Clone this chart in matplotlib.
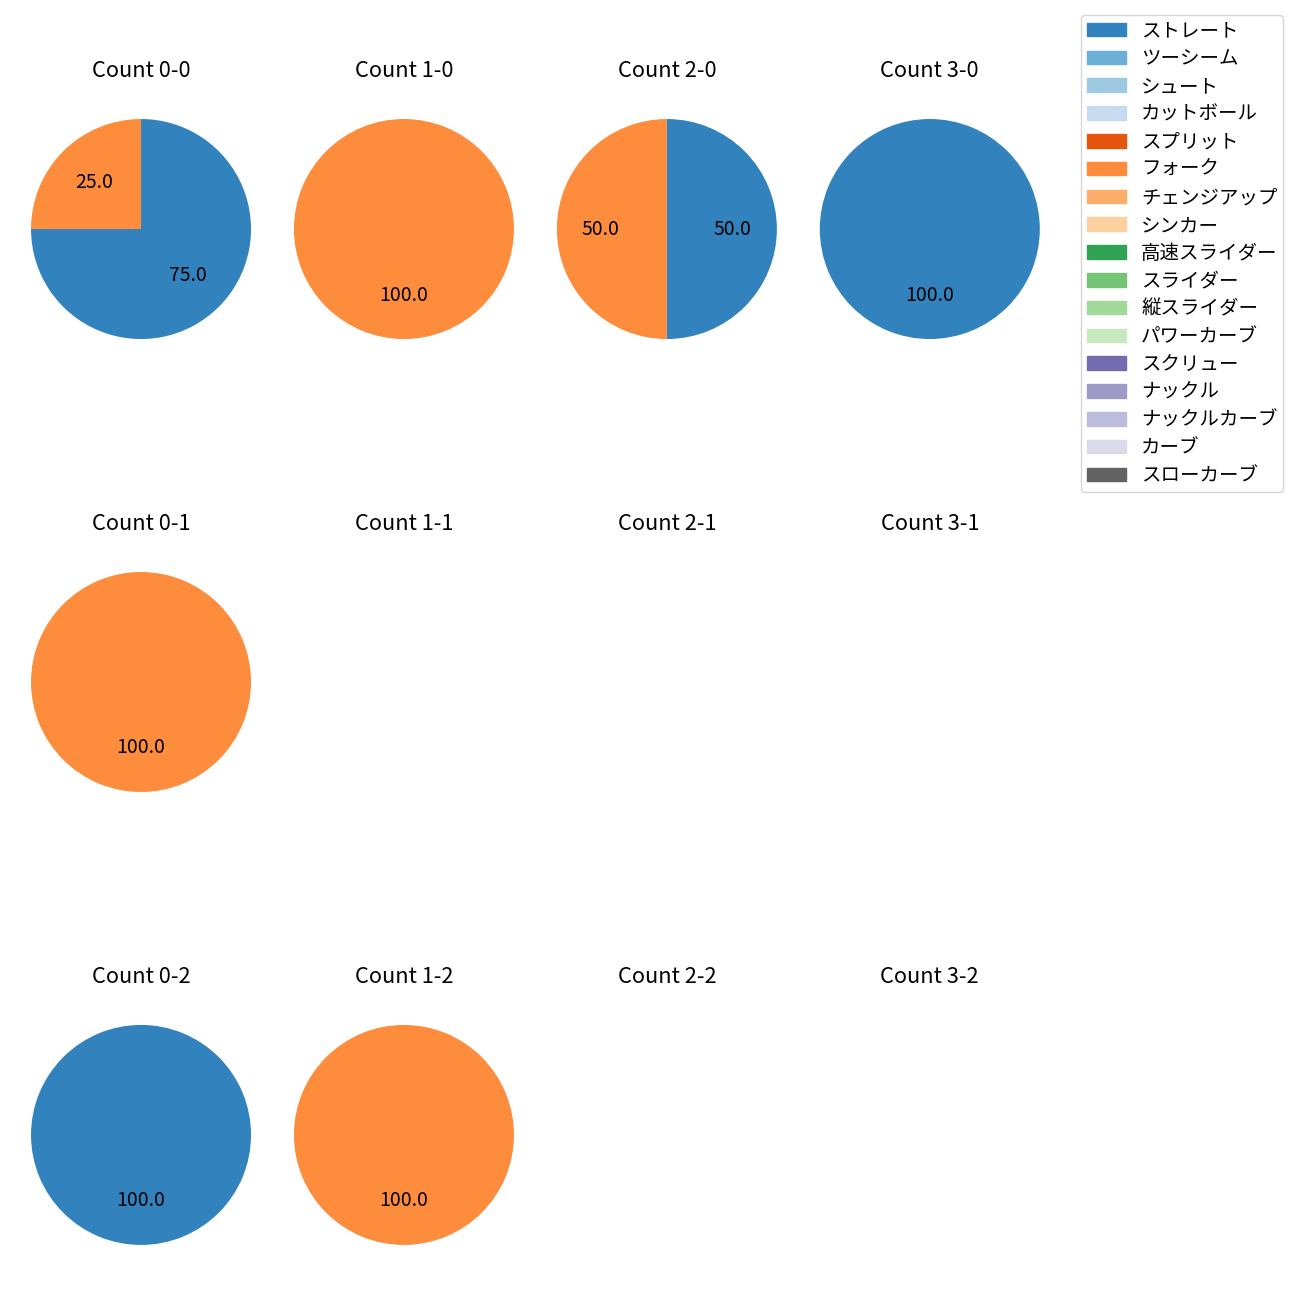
import matplotlib
matplotlib.use("Agg")
import matplotlib.pyplot as plt
from matplotlib.patches import Patch

plt.rcParams['font.family'] = ['Noto Sans CJK JP', 'DejaVu Sans']

pitch_types = ["ストレート", "ツーシーム", "シュート", "カットボール", "スプリット",
               "フォーク", "チェンジアップ", "シンカー", "高速スライダー", "スライダー",
               "縦スライダー", "パワーカーブ", "スクリュー", "ナックル", "ナックルカーブ",
               "カーブ", "スローカーブ"]

# pitch counts per ball-strike count: [ストレート, フォーク]
counts = ["0-0", "1-0", "2-0", "3-0",
          "0-1", "1-1", "2-1", "3-1",
          "0-2", "1-2", "2-2", "3-2"]
straight = [3, 0, 1, 1, 0, 0, 0, 0, 1, 0, 0, 0]
fork = [1, 1, 1, 0, 1, 0, 0, 0, 0, 1, 0, 0]

cmap = plt.get_cmap('tab20c')
colors = {p: cmap(i) for i, p in enumerate(pitch_types)}

fig, axes = plt.subplots(3, 4, figsize=(13, 13))
fig.subplots_adjust(left=0.0027, right=0.821, top=0.9296, bottom=0.0212,
                    wspace=-0.044, hspace=0.647)

for ax, c, s, f in zip(axes.flat, counts, straight, fork):
    ax.set_title(f"Count {c}", fontsize=15.7, pad=10.5)
    vals, cols = [], []
    for v, p in ((s, "ストレート"), (f, "フォーク")):
        if v > 0:
            vals.append(v)
            cols.append(colors[p])
    if not vals:
        ax.axis('off')
        continue
    ax.pie(vals, colors=cols, autopct='%.1f', startangle=90, counterclock=False,
           textprops={'fontsize': 14})

handles = [Patch(color=colors[p], label=p) for p in pitch_types]
fig.legend(handles=handles, loc='upper right', bbox_to_anchor=(0.987, 0.9885),
           borderaxespad=0, fontsize=14, labelspacing=0.35, borderpad=0.28)

fig.savefig("out.png", dpi=100)
